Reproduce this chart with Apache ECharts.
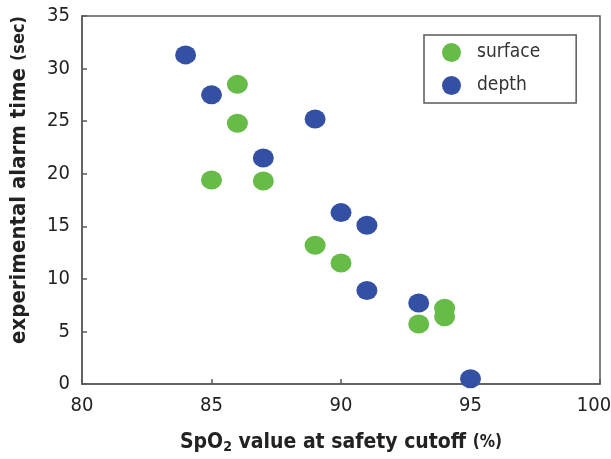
<!DOCTYPE html>
<html>
<head>
<meta charset="utf-8">
<script src="https://cdn.jsdelivr.net/npm/echarts@6/dist/echarts.min.js"></script>
<style>
  html, body { margin: 0; padding: 0; background: #fff; }
  #chart { width: 611px; height: 459px; }
</style>
</head>
<body>
<div id="chart"></div>
<script>
// SpO2 cutoff (%) vs. experimental alarm time (sec)
const surfaceSpO2 = [86, 86, 85, 87, 89, 90, 93, 94, 94];
const surfaceTime = [28.5, 24.8, 19.4, 19.3, 13.2, 11.5, 5.7, 7.2, 6.4];
const depthSpO2 = [84, 85, 87, 89, 90, 91, 91, 93, 95];
const depthTime = [31.3, 27.5, 21.5, 25.2, 16.3, 15.1, 8.9, 7.7, 0.5];
const seriesNames = ['surface', 'depth'];

const FONT = '"Liberation Sans Narrow", "DejaVu Sans Condensed", "Liberation Sans", sans-serif';
const GREEN = '#67bb47';
const BLUE = '#3450a4';
const AXIS = '#5a5a5a';

const zip = (xs, ys) => xs.map((x, i) => [x, ys[i]]);

const chart = echarts.init(document.getElementById('chart'), null, { renderer: 'canvas' });

const axisCommon = {
  axisLine: { show: true, lineStyle: { color: AXIS, width: 1.5 } },
  axisTick: { show: true, inside: true, length: 5, lineStyle: { color: AXIS, width: 1.5 } },
  splitLine: { show: false },
  axisLabel: { fontFamily: FONT, fontSize: 20, color: '#222' }
};

chart.setOption({
  animation: false,
  backgroundColor: '#fff',
  grid: {
    left: 82, top: 16, right: 11, bottom: 75,
    outerBoundsMode: 'none', containLabel: false,
    show: true, borderColor: AXIS, borderWidth: 1.5, backgroundColor: 'transparent'
  },
  legend: {
    data: seriesNames,
    orient: 'vertical',
    left: 424, top: 35,
    itemWidth: 21, itemHeight: 19, itemGap: 14,
    icon: 'circle',
    padding: [8, 36, 8, 18],
    borderColor: AXIS, borderWidth: 1.5,
    textStyle: { fontFamily: FONT, fontSize: 19, color: '#333', padding: [0, 0, 0, 10] }
  },
  xAxis: Object.assign({}, axisCommon, {
    type: 'value', min: 80, max: 100, interval: 5,
    name: '{b|SpO}{sub|2}{b| value at safety cutoff }{s|(%)}',
    nameLocation: 'middle', nameGap: 47,
    nameTextStyle: {
      rich: {
        b: { fontFamily: FONT, fontWeight: 'bold', fontSize: 21, color: '#222' },
        sub: { fontFamily: FONT, fontWeight: 'bold', fontSize: 14, color: '#222', verticalAlign: 'bottom', padding: [9, 0, 0, 0] },
        s: { fontFamily: FONT, fontWeight: 'bold', fontSize: 17, color: '#222' }
      }
    },
    axisLabel: Object.assign({}, axisCommon.axisLabel, {
      margin: 12,
      // keep the last label inside the canvas edge
      formatter: v => (v === 100 ? '{m|' + v + '}' : String(v)),
      rich: { m: { fontFamily: FONT, fontSize: 20, color: '#222', padding: [0, 12, 0, 0] } }
    })
  }),
  yAxis: Object.assign({}, axisCommon, {
    type: 'value', min: 0, max: 35, interval: 5,
    name: '{b|experimental alarm time }{s|(sec)}',
    nameLocation: 'middle', nameGap: 52,
    nameTextStyle: {
      padding: [0, 0, 0, 40],
      rich: {
        b: { fontFamily: FONT, fontWeight: 'bold', fontSize: 22, color: '#222' },
        s: { fontFamily: FONT, fontWeight: 'bold', fontSize: 18, color: '#222' }
      }
    },
    axisLabel: Object.assign({}, axisCommon.axisLabel, { margin: 12 })
  }),
  series: [
    {
      name: seriesNames[0], type: 'scatter',
      data: zip(surfaceSpO2, surfaceTime),
      symbol: 'circle', symbolSize: [21, 19],
      itemStyle: { color: GREEN, opacity: 1 }
    },
    {
      name: seriesNames[1], type: 'scatter',
      data: zip(depthSpO2, depthTime),
      symbol: 'circle', symbolSize: [21, 19],
      itemStyle: { color: BLUE, opacity: 1 }
    }
  ]
});
</script>
</body>
</html>
